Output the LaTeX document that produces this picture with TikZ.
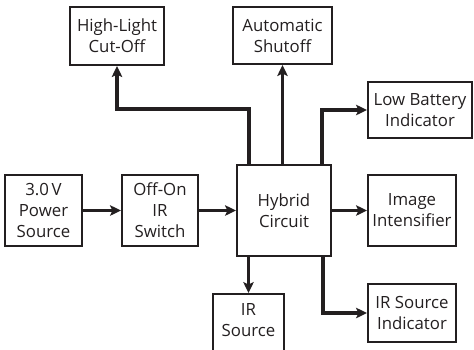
\documentclass[tikz,border=0pt]{standalone}
\usepackage{fontspec}
\setmainfont{Open Sans}
\usetikzlibrary{arrows.meta}
\definecolor{ink}{HTML}{231F20}
\tikzset{
  blk/.style={draw=ink, line width=2pt, rectangle, align=center, inner sep=0pt,
    text=ink, font=\fontsize{16.8}{21}\selectfont},
  arr/.style={draw=ink, line width=3.2pt, -{Stealth[length=11pt,width=10.5pt,inset=2.5pt]}}
}
\begin{document}
\begin{tikzpicture}[x=1pt,y=-1pt]
\useasboundingbox (0,0) rectangle (474,349);
\node[blk, minimum width=94pt, minimum height=58pt] (HL) at (117,36) {High-Light\\Cut-Off};
\node[blk, minimum width=99pt, minimum height=57pt] (AS) at (282.5,35.5) {Automatic\\Shutoff};
\node[blk, minimum width=104pt, minimum height=56pt] (LB) at (420,110) {Low Battery\\Indicator};
\node[blk, minimum width=77pt, minimum height=71pt] (PS) at (43.5,210.5) {3.0\,V\\Power\\Source};
\node[blk, minimum width=76pt, minimum height=71pt] (OO) at (160,210.5) {Off-On\\IR\\Switch};
\node[blk, minimum width=94pt, minimum height=91pt] (HC) at (284,210.5) {Hybrid\\Circuit};
\node[blk, minimum width=88pt, minimum height=71pt] (II) at (412,210.5) {Image\\Intensifier};
\node[blk, minimum width=88pt, minimum height=58pt] (IRI) at (412,313) {IR Source\\Indicator};
\node[blk, minimum width=71pt, minimum height=80pt, anchor=north] (IRS) at (248.5,293) {};
\node[text=ink, font=\fontsize{16.8}{21}\selectfont, align=center, anchor=north, inner sep=0pt] (IRSt) at (248.5,303) {IR\\Source};
\draw[arr] (PS.east) -- (OO.west);
\draw[arr] (OO.east) -- (HC.west);
\draw[arr] (HC.east) -- (II.west);
\draw[arr] ([xshift=13pt]HC.north west) -- ++(0,-55) -| (HL.south);
\draw[arr] (HC.north -| AS.south) -- (AS.south);
\draw[arr] ([xshift=-10pt]HC.north east) |- (LB.west);
\draw[arr] (HC.south -| IRS.north) -- (IRS.north);
\draw[arr] ([xshift=-9pt]HC.south east) |- (IRI.west);
\end{tikzpicture}
\end{document}
